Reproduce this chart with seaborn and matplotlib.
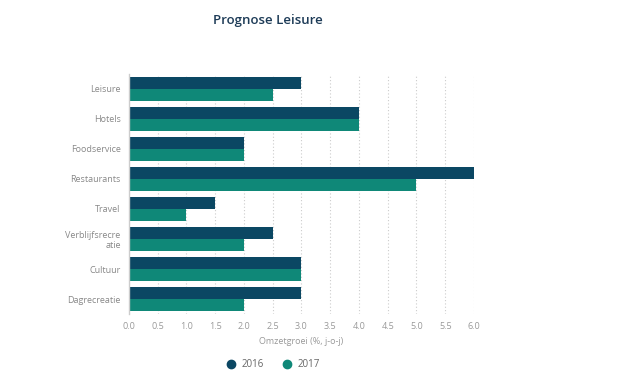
import matplotlib
matplotlib.use("Agg")
import matplotlib.pyplot as plt
import seaborn as sns
import pandas as pd
from matplotlib.lines import Line2D

categories = ["Leisure", "Hotels", "Foodservice", "Restaurants", "Travel",
              "Verblijfsrecreatie", "Cultuur", "Dagrecreatie"]
tick_labels = ["Leisure", "Hotels", "Foodservice", "Restaurants", "Travel",
               "Verblijfsrecre\natie", "Cultuur", "Dagrecreatie"]
values_2016 = [3.0, 4.0, 2.0, 6.0, 1.5, 2.5, 3.0, 3.0]
values_2017 = [2.5, 4.0, 2.0, 5.0, 1.0, 2.0, 3.0, 2.0]
years = ["2016", "2017"]
x_ticks = [0.0, 0.5, 1.0, 1.5, 2.0, 2.5, 3.0, 3.5, 4.0, 4.5, 5.0, 5.5, 6.0]

df = pd.DataFrame({
    "cat": categories * 2,
    "val": values_2016 + values_2017,
    "year": [years[0]] * len(categories) + [years[1]] * len(categories),
})

colors = {"2016": "#0b4763", "2017": "#0f8878"}

sns.set_theme(style="white")
plt.rcParams['font.family'] = ['Open Sans', 'DejaVu Sans']

fig = plt.figure(figsize=(6.2, 3.77), dpi=100)
ax = fig.add_axes([0.208, 0.167, 0.5565, 0.637])

sns.barplot(data=df, x="val", y="cat", hue="year", order=categories,
            hue_order=years, palette=colors, orient="h", width=0.78,
            saturation=1, ax=ax, legend=False, edgecolor="none", linewidth=0)

ax.set_xlim(0, 6)
ax.set_xticks(x_ticks)
ax.set_xticklabels([f"{t:.1f}" for t in x_ticks], fontsize=6.5, color="#999999")
ax.set_yticks(range(len(categories)))
ax.set_yticklabels(tick_labels, fontsize=6.5, color="#888888")
ax.set_ylabel("")
ax.set_xlabel("Omzetgroei (%, j-o-j)", fontsize=6.5, color="#999999", labelpad=4)
ax.tick_params(axis="both", length=0, pad=6)

for s in ["top", "right", "bottom"]:
    ax.spines[s].set_visible(False)
ax.spines["left"].set_color("#cccccc")
ax.spines["left"].set_linewidth(1.0)

ax.grid(axis="x", linestyle=(0, (1, 2)), color="#cccccc", linewidth=0.8)
ax.set_axisbelow(True)

fig.text(0.432, 0.945, "Prognose Leisure", ha="center", va="center",
         fontsize=9.5, color="#1d3b57", fontweight="semibold",
         family=["Open Sans", "DejaVu Sans"], fontstretch="condensed")

handles = [Line2D([0], [0], marker="o", linestyle="", markersize=6,
                  markerfacecolor=colors[y], markeredgecolor=colors[y]) for y in years]
fig.legend(handles, years, loc="center", bbox_to_anchor=(0.436, 0.033), ncol=2,
           frameon=False, fontsize=7, labelcolor="#666666", handletextpad=0.1,
           columnspacing=1.4)

fig.savefig("out.png", dpi=100)
